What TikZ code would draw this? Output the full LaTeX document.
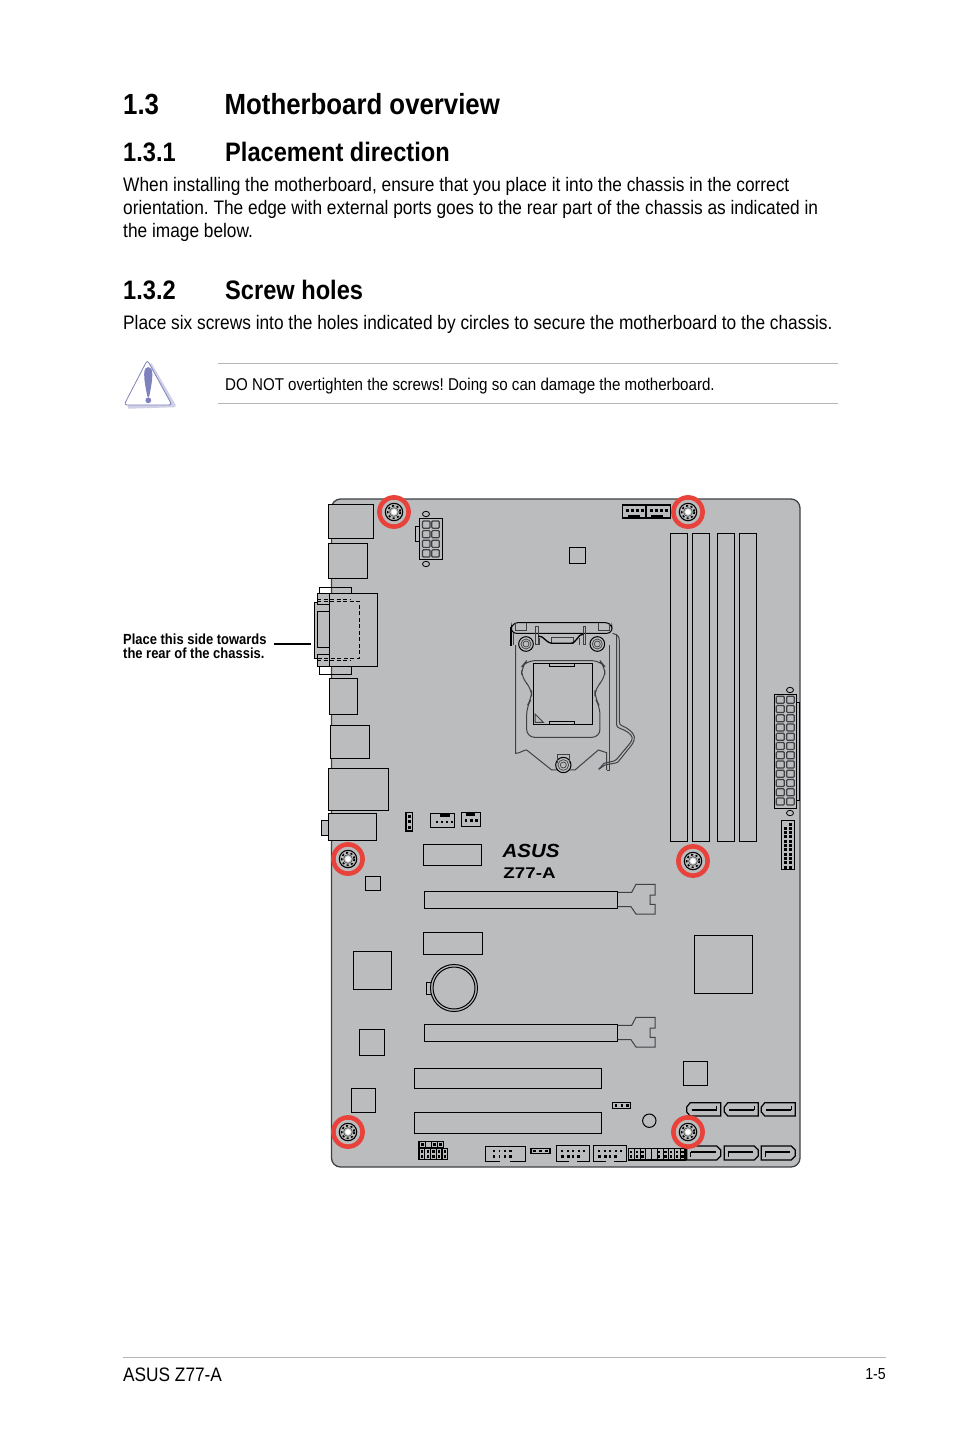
\documentclass[tikz,border=0pt]{standalone}
\usepackage{fontspec}
\setmainfont{Liberation Sans}
\newfontfamily\narrowfont[FakeStretch=0.885]{Liberation Sans}
\newfontfamily\logoface[FakeStretch=1.08]{Liberation Sans}
\newfontfamily\modelface[FakeStretch=1.21]{Liberation Sans}
\newcommand{\headA}{\narrowfont\bfseries\fontsize{29.15}{29}\selectfont}
\newcommand{\headB}{\narrowfont\bfseries\fontsize{26.7}{27}\selectfont}
\newcommand{\bodytxt}{\narrowfont\fontsize{19.54}{23}\selectfont}
\definecolor{boardgray}{HTML}{BBBCBE}
\definecolor{screwred}{HTML}{E8423B}
\definecolor{warnblue}{HTML}{7F81BF}
\definecolor{warnshade}{HTML}{CFD0E6}
\definecolor{rulegray}{HTML}{B4B5B7}
\definecolor{wiregray}{HTML}{404145}
\tikzset{
	txt/.style={anchor=base west, inner sep=0pt},
	part/.style={draw=black, line width=1pt},
	softcell/.style={draw=wiregray, line width=1.15pt, rounded corners=1pt},
	wire/.style={draw=wiregray, line width=1pt},
	pin/.style={fill=black, draw=none},
}
\frenchspacing
\begin{document}
\begin{tikzpicture}[x=1pt, y=-1pt]
	\useasboundingbox (0, 0) rectangle (954, 1432);
	% text
	\node[txt] (secnum) at (123, 114) {\headA 1.3};
	\node[txt] (sectitle) at (224.5, 114) {\headA Motherboard overview};
	\node[txt] (subnumA) at (123, 161) {\headB 1.3.1};
	\node[txt] (subtitleA) at (225, 161) {\headB Placement direction};
	\node[txt] (bodyA) at (123, 191) {\bodytxt When installing the motherboard, ensure that you place it into the chassis in the correct};
	\node[txt] (bodyB) at (123, 214) {\bodytxt orientation. The edge with external ports goes to the rear part of the chassis as indicated in};
	\node[txt] (bodyC) at (123, 237) {\bodytxt the image below.};
	\node[txt] (subnumB) at (123, 299.5) {\headB 1.3.2};
	\node[txt] (subtitleB) at (225, 299.5) {\headB Screw holes};
	\node[txt] (bodyD) at (123, 329) {\bodytxt Place six screws into the holes indicated by circles to secure the motherboard to the chassis.};
	\node[txt] (warntext) at (225, 390) {\narrowfont\fontsize{17.1}{20}\selectfont DO NOT overtighten the screws! Doing so can damage the motherboard.};
	\node[txt] (sideA) at (123, 644) {\narrowfont\bfseries\fontsize{14.65}{14}\selectfont Place this side towards};
	\node[txt] (sideB) at (123, 658) {\narrowfont\bfseries\fontsize{14.65}{14}\selectfont the rear of the chassis.};
	\node[txt] (footA) at (123, 1381) {\narrowfont\fontsize{19.5}{20}\selectfont ASUS Z77-A};
	\node[anchor=base east, inner sep=0pt] (footB) at (886, 1379) {\narrowfont\fontsize{16}{16}\selectfont 1-5};
	\draw[rulegray] (218, 363) -- (838, 363);
	\draw[rulegray] (218, 403) -- (838, 403);
	\draw[rulegray] (123, 1357) -- (886, 1357);
	% warning sign
	\draw[warnshade, line width=3.5pt, line join=round] (150, 364) -- (174, 405.5) -- (128, 407);
	\draw[warnblue, fill=white, line width=0.8pt, line join=round, rounded corners=3pt] (147.3, 360) -- (172, 405) -- (124, 405) -- cycle;
	\fill[warnblue] (148.3, 367) .. controls (153.5, 367) and (153.5, 376) .. (149.3, 396) .. controls (148.9, 397.5) and (147.7, 397.5) .. (147.3, 396) .. controls (143, 376) and (143, 367) .. (148.3, 367) -- cycle;
	\fill[warnblue] (148.3, 400.3) circle (2.9);
	% board
	\draw[fill=boardgray, draw=wiregray, line width=1.3pt, rounded corners=9pt] (331.5, 499) rectangle (800, 1167);
	% rear ports
	\draw[part, fill=boardgray] (328, 504) rectangle (373.5, 538);
	\draw[part, fill=boardgray] (328, 543) rectangle (367, 578);
	\draw[part] (319, 587) rectangle (351, 593);
	\draw[part] (319, 666) rectangle (351, 674);
	\draw[part, fill=boardgray] (329, 593) rectangle (377, 666);
	\draw[part, fill=boardgray] (314, 602) rectangle (329, 658);
	\draw[part] (317, 611) rectangle (329, 647);
	\draw[part, fill=boardgray] (317, 593) rectangle (329, 604);
	\draw[part, fill=boardgray] (317, 654) rectangle (329, 666);
	\draw[part, dashed, dash pattern=on 4pt off 2.5pt] (317, 601) -- (359, 601) -- (359, 658) -- (317, 658);
	\draw[part, dashed, dash pattern=on 4pt off 2.5pt] (317, 599) -- (350, 599);
	\draw[part, dashed, dash pattern=on 4pt off 2.5pt] (317, 660) -- (350, 660);
	\draw[part, fill=boardgray] (329, 678) rectangle (357, 714);
	\draw[part, fill=boardgray] (330, 725) rectangle (369.5, 758);
	\draw[part, fill=boardgray] (328, 768) rectangle (388, 810);
	\draw[part, fill=boardgray] (321, 820) rectangle (328, 835);
	\draw[part, fill=boardgray] (328, 813) rectangle (376, 840);
	% side label leader
	\coordinate (rearedge) at (311, 644);
	\draw[line width=1.4pt] (274, 644) -- (rearedge);
	% 8 pin power
	\draw[part] (415.3, 526) rectangle (419, 541.7);
	\draw[part] (419, 518) rectangle (442, 559);
	\foreach \y in {521, 530.6, 540.2, 549.8} {
		\draw[softcell] (422.5, \y) rectangle (430, \y + 7.2);
		\draw[softcell] (431.8, \y) rectangle (439.3, \y + 7.2);
	}
	\draw[part, line width=0.8pt] (426, 514) ellipse (3.5 and 2.7);
	\draw[part, line width=0.8pt] (426, 564) ellipse (3.5 and 2.7);
	% top fan headers and small chip
	\draw[part, line width=1.3pt] (622.7, 505) rectangle (646, 518);
	\draw[part, line width=1.3pt] (646, 505) rectangle (670.7, 518);
	\foreach \x in {626, 631, 636, 641, 650, 655, 660, 665}
		\fill[pin] (\x, 509) rectangle +(2.6, 2.8);
	\fill[pin] (628, 514.5) rectangle (640, 517);
	\fill[pin] (651, 514.5) rectangle (663, 517);
	\draw[part] (569, 547) rectangle (585.5, 563);
	% memory slots
	\foreach \x in {670.3, 692, 717.3, 739.3}
		\draw[part] (\x, 533) rectangle (\x + 17.3, 841.5);
	% 24 pin power
	\draw[part] (796.7, 702) rectangle (799, 800);
	\draw[part] (774.3, 694) rectangle (796.7, 808.3);
	\foreach \n in {0, ..., 11} {
		\draw[softcell] (776.3, 696.3 + 9.25 * \n) rectangle (784.3, 703.3 + 9.25 * \n);
		\draw[softcell] (786.7, 696.3 + 9.25 * \n) rectangle (794.3, 703.3 + 9.25 * \n);
	}
	\draw[part, line width=0.8pt] (790, 690) ellipse (3.5 and 2.7);
	\draw[part, line width=0.8pt] (790, 813) ellipse (3.5 and 2.7);
	% front panel header
	\draw[part] (781.3, 820) rectangle (794.7, 869.3);
	\fill[pin] (788.8, 822.5) rectangle +(3, 3);
	\foreach \n in {1, ..., 10} {
		\fill[pin] (784.2, 822.5 + 4.3 * \n) rectangle +(3, 3);
		\fill[pin] (788.8, 822.5 + 4.3 * \n) rectangle +(3, 3);
	}
	% cpu socket, numbers as on a 3x enlargement
	\begin{scope}[shift={(490, 610)}, x=0.3333pt, y=-0.3333pt]
		\draw[wire] (77, 105) -- (77, 430) .. controls (90, 430) and (100, 420) .. (110, 420) -- (185, 480) -- (255, 480) -- (325, 420) -- (350, 428) -- (350, 480);
		\draw[wire] (360, 105) -- (360, 482) -- (350, 482);
		\draw[wire, rounded corners=8pt] (110, 152) -- (330, 152) -- (345, 170) -- (345, 205) -- (315, 235) -- (315, 265) -- (330, 290) -- (330, 382) -- (110, 382) -- (110, 290) -- (125, 265) -- (125, 235) -- (95, 205) -- (95, 170) -- cycle;
		\draw[part] (130, 160) rectangle (308, 343);
		\draw[part] (178, 160) rectangle (253, 170);
		\draw[part] (178, 335) rectangle (253, 343);
		\draw[wire] (135, 312) -- (160, 337) -- (135, 337) -- cycle;
		% top latch
		\draw[part, fill=boardgray, rounded corners=6pt] (66, 38) -- (364, 38) -- (368, 70) -- (62, 70) -- cycle;
		\draw[black, line width=1.6pt] (63, 50) -- (63, 108);
		\draw[wire] (70, 104) -- (70, 70);
		\draw[wire] (77, 38) -- (77, 62) -- (108, 62) -- (108, 38);
		\draw[wire] (325, 38) -- (325, 62) -- (358, 62) -- (358, 40);
		\draw[wire] (137, 48) rectangle (145, 103);
		\draw[wire] (280, 48) rectangle (288, 103);
		\draw[wire] (185, 82) rectangle (252, 100);
		\draw[black, line width=1.3pt] (145, 78) .. controls (165, 78) and (165, 100) .. (190, 100) -- (240, 100) .. controls (262, 100) and (262, 72) .. (280, 72);
		\draw[wire] (148, 84) -- (148, 104);
		\draw[wire] (270, 84) -- (270, 104);
		% screws of the socket
		\foreach \cx/\cy/\cr in {108/102/22, 322/102/22, 220/465/23} {
			\fill[boardgray] (\cx, \cy) circle [radius=\cr];
			\draw[part] (\cx, \cy) circle [radius=\cr];
			\draw[wire, line width=0.7pt] (\cx, \cy) circle [radius=\cr - 7];
			\draw[wire, line width=0.7pt] (\cx, \cy) circle [radius=9];
		}
		\draw[wire] (203, 460) -- (203, 435) -- (238, 435) -- (238, 460);
		% lever
		\draw[wire] (368, 70) .. controls (385, 75) and (388, 80) .. (388, 95) -- (388, 335) .. controls (388, 350) and (400, 345) .. (418, 360) .. controls (436, 375) and (438, 385) .. (425, 405) -- (385, 455) .. controls (375, 462) and (365, 460) .. (345, 465) -- (326, 478);
		\draw[wire] (380, 72) -- (380, 345) .. controls (380, 356) and (398, 355) .. (414, 367) .. controls (428, 378) and (431, 385) .. (420, 400) -- (380, 448) .. controls (372, 456) and (358, 455) .. (342, 460) -- (326, 478);
	\end{scope}
	% logo
	\node[anchor=base, inner sep=0pt] (logo) at (531, 857) {\logoface\bfseries\itshape\fontsize{19}{19}\selectfont ASUS};
	\node[anchor=base, inner sep=0pt] (model) at (529.5, 878) {\modelface\bfseries\fontsize{15.5}{15}\selectfont Z77-A};
	% middle headers
	\draw[part, line width=1.3pt] (406, 812.5) rectangle (412.7, 831);
	\foreach \y in {815, 820.3, 825.6}
		\fill[pin] (408, \y) rectangle +(2.6, 3);
	\draw[part] (430, 813.3) rectangle (454.7, 827.7);
	\fill[pin] (440, 814) rectangle (450, 817);
	\foreach \x in {435.5, 441, 446, 451}
		\fill[pin] (\x, 820.5) rectangle +(2.4, 2.6);
	\draw[part] (461.3, 812.3) rectangle (480, 826.7);
	\fill[pin] (465.7, 812.7) rectangle (475, 815.5);
	\foreach \x in {464.5, 470, 475}
		\fill[pin] (\x, 818.5) rectangle +(2.6, 3);
	\draw[part] (423.3, 844.3) rectangle (481.7, 865.7);
	\draw[part] (365.5, 876) rectangle (380.5, 890);
	% pcie slots
	\foreach \y in {0, 133} {
		\draw[part] (424.3, 891.5 + \y) rectangle (617.7, 908.3 + \y);
		\draw[wire] (617.7, 892.3 + \y) -- (631.7, 892.3 + \y) -- (636, 884.3 + \y) -- (655, 884.3 + \y) -- (655, 895 + \y) -- (650, 895 + \y) -- (650, 904.3 + \y) -- (655, 904.3 + \y) -- (655, 914 + \y) -- (636, 914 + \y) -- (631, 906.7 + \y) -- (617.7, 906.7 + \y);
	}
	\draw[part] (423.3, 932) rectangle (482, 954);
	% battery
	\draw[part] (426, 982) rectangle (432, 994);
	\draw[part, fill=boardgray] (454, 988) circle (23.5);
	\draw[part] (454, 988) circle (21);
	% chips
	\draw[part] (353, 951) rectangle (391, 989);
	\draw[part] (359, 1029) rectangle (384.5, 1055);
	\draw[part] (351.5, 1088) rectangle (375, 1112);
	\draw[part] (694, 935) rectangle (752, 993);
	\draw[part] (683, 1061) rectangle (707, 1085);
	% pci slots
	\draw[part] (414, 1068) rectangle (601.7, 1088);
	\draw[part] (414, 1112.3) rectangle (601.7, 1133.3);
	% bottom headers
	\foreach \x/\w in {419/6.5, 425.5/6, 431.5/6, 437.5/6}
		\draw[part, line width=1.2pt] (\x, 1141.3) rectangle +(\w, 6.4);
	\fill[pin] (420.5, 1143) rectangle +(3.5, 3.2);
	\fill[pin] (433, 1143) rectangle +(3, 3.2);
	\fill[pin] (439, 1143) rectangle +(3, 3.2);
	\foreach \x in {419, 424.8, 430.6, 436.4, 442.2}
		\draw[part, line width=1.2pt] (\x, 1148.5) rectangle +(5.6, 10.8);
	\foreach \x in {420.8, 426.6, 432.4, 438.2, 444} {
		\fill[pin] (\x, 1150) rectangle +(2.2, 2.8);
		\fill[pin] (\x, 1154.5) rectangle +(2.2, 3.2);
	}
	\draw[part] (500, 1161.7) -- (485, 1161.7) -- (485, 1146) -- (525.7, 1146) -- (525.7, 1161.7) -- (510, 1161.7);
	\foreach \x/\w in {493/1.8, 498.5/1.8, 504/1.8, 509/3} {
		\fill[pin] (\x, 1150) rectangle +(\w, 1.8);
		\fill[pin] (\x, 1155) rectangle +(\w, 3);
	}
	\draw[part, line width=1.2pt] (531, 1148.3) rectangle (550, 1153.3);
	\foreach \x in {533, 539, 545}
		\fill[pin] (\x, 1149.8) rectangle +(2.6, 2);
	\foreach \x in {556, 593} {
		\draw[part] (\x + 13, 1161.7) -- (\x, 1161.7) -- (\x, 1145) -- (\x + 33.7, 1145) -- (\x + 33.7, 1161.7) -- (\x + 20.7, 1161.7);
		\foreach \d in {5, 10.5, 16, 21.5, 27} {
			\fill[pin] (\x + \d, 1150) rectangle +(2.4, 2);
		}
		\foreach \d/\w in {5/3.2, 10.5/3.2, 16/2, 21/3} {
			\fill[pin] (\x + \d, 1155) rectangle +(\w, 3);
		}
	}
	\draw[part, line width=1.2pt] (628.3, 1148.3) rectangle (685, 1160);
	\foreach \x in {634, 640, 645.5, 651.5, 657, 663, 668.5, 674.5, 680}
		\draw[black, line width=0.9pt] (\x, 1148.3) -- (\x, 1160);
	\foreach \x in {629.8, 635.5, 641.2, 658, 664.3, 670, 675.8, 681.3} {
		\fill[pin] (\x, 1150.5) rectangle +(2.4, 2.4);
		\fill[pin] (\x, 1155) rectangle +(2.4, 3);
	}
	\draw[part, line width=1.2pt] (612.7, 1102.7) rectangle (630.7, 1108.3);
	\foreach \x in {614.5, 620.5, 626}
		\fill[pin] (\x, 1104.2) rectangle +(2.6, 2.6);
	\draw[part] (649.3, 1120.7) circle (6.7);
	% sata connectors
	\foreach \x in {686.7, 724.3, 761.3} {
		\draw[part, line width=1.2pt] (\x + 3.5, 1102.7) -- (\x + 34, 1102.7) -- (\x + 34, 1116) -- (\x + 3.5, 1116) -- (\x, 1112) -- (\x, 1107) -- cycle;
		\draw[black, line width=1.7pt] (\x + 5, 1110) -- (\x + 30, 1110);
		\draw[black, line width=1pt] (\x + 30, 1110) -- (\x + 30, 1105.5);
		\draw[part, line width=1.2pt] (\x, 1146) -- (\x + 30, 1146) -- (\x + 34, 1150) -- (\x + 34, 1156) -- (\x + 30, 1160) -- (\x, 1160) -- cycle;
		\draw[black, line width=1.7pt] (\x + 4, 1152) -- (\x + 29, 1152);
		\draw[black, line width=1pt] (\x + 4, 1152) -- (\x + 4, 1157);
	}
	% screw holes
	\foreach \x/\y in {394/512, 688/512, 348/859, 693/861, 348/1132, 688/1132} {
		\draw[screwred, line width=4.6pt] (\x, \y) circle (14.6);
		\draw[black, line width=1.1pt] (\x, \y) circle (8.7);
		\draw[black, line width=1.6pt, dash pattern=on 2pt off 2.6pt] (\x, \y) circle (6.3);
		\draw[black!70, line width=0.6pt] (\x, \y) circle (4.4);
		\fill[white] (\x, \y) circle (2.8);
	}
\end{tikzpicture}
\end{document}
